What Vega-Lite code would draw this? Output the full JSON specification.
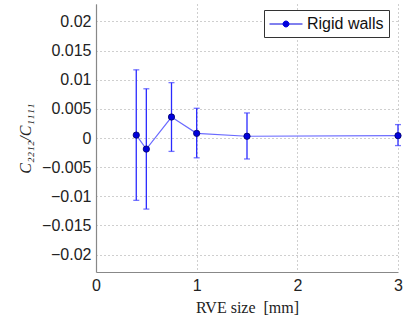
{
  "$schema": "https://vega.github.io/schema/vega-lite/v6.json",
  "width": 302,
  "height": 268,
  "autosize": {"type": "none"},
  "padding": {"left": 96, "top": 4, "right": 8, "bottom": 48},
  "background": "white",
  "config": {
    "view": {"stroke": null},
    "axis": {
      "labelFont": "Liberation Sans",
      "labelFontSize": 16,
      "labelColor": "#222",
      "labelOverlap": false,
      "labelFlush": false,
      "titleFont": "Liberation Serif",
      "titleFontSize": 16,
      "titleFontWeight": "normal",
      "titleColor": "#222",
      "domainColor": "#888",
      "domainWidth": 1.2,
      "ticks": false,
      "gridColor": "#888",
      "gridDash": [1, 3],
      "gridWidth": 1,
      "gridOpacity": 0.8
    }
  },
  "data": {
    "values": [
      {"size": 0.4, "val": 0.0005, "lo": -0.0107, "hi": 0.0117, "series": "Rigid walls"},
      {"size": 0.5, "val": -0.0019, "lo": -0.0122, "hi": 0.00845, "series": "Rigid walls"},
      {"size": 0.75, "val": 0.0036, "lo": -0.0023, "hi": 0.0095, "series": "Rigid walls"},
      {"size": 1.0, "val": 0.0008, "lo": -0.0034, "hi": 0.0051, "series": "Rigid walls"},
      {"size": 1.5, "val": 0.0003, "lo": -0.0036, "hi": 0.0043, "series": "Rigid walls"},
      {"size": 3.0, "val": 0.0004, "lo": -0.0013, "hi": 0.0023, "series": "Rigid walls"}
    ]
  },
  "encoding": {
    "x": {
      "field": "size", "type": "quantitative",
      "scale": {"domain": [0, 3], "nice": false, "zero": false},
      "axis": {"values": [0, 1, 2, 3], "format": "d", "title": "RVE size \u00a0[mm]", "labelPadding": 5, "titlePadding": 6}
    }
  },
  "layer": [
    {
      "mark": {"type": "rule", "color": "#2a2aff", "strokeWidth": 1.3},
      "encoding": {
        "y": {
          "field": "lo", "type": "quantitative",
          "scale": {"domain": [-0.023, 0.023], "nice": false, "zero": false},
          "axis": {"values": [-0.02, -0.015, -0.01, -0.005, 0, 0.005, 0.01, 0.015, 0.02], "format": "~f", "title": "C₂₂₁₂/C₁₁₁₁", "titleFontStyle": "italic", "labelPadding": 5, "titlePadding": 8}
        },
        "y2": {"field": "hi"}
      }
    },
    {
      "mark": {"type": "tick", "orient": "horizontal", "color": "#3a3aff", "size": 6, "thickness": 1.3},
      "encoding": {"y": {"field": "lo", "type": "quantitative",
        "axis": {"values": [-0.02, -0.015, -0.01, -0.005, 0, 0.005, 0.01, 0.015, 0.02], "format": "~f", "title": "C₂₂₁₂/C₁₁₁₁", "titleFontStyle": "italic", "labelPadding": 5, "titlePadding": 8}}}
    },
    {
      "mark": {"type": "tick", "orient": "horizontal", "color": "#3a3aff", "size": 6, "thickness": 1.3},
      "encoding": {"y": {"field": "hi", "type": "quantitative",
        "axis": {"values": [-0.02, -0.015, -0.01, -0.005, 0, 0.005, 0.01, 0.015, 0.02], "format": "~f", "title": "C₂₂₁₂/C₁₁₁₁", "titleFontStyle": "italic", "labelPadding": 5, "titlePadding": 8}}}
    },
    {
      "mark": {"type": "line", "color": "#6a6aff", "strokeWidth": 1.2},
      "encoding": {"y": {"field": "val", "type": "quantitative",
        "axis": {"values": [-0.02, -0.015, -0.01, -0.005, 0, 0.005, 0.01, 0.015, 0.02], "format": "~f", "title": "C₂₂₁₂/C₁₁₁₁", "titleFontStyle": "italic", "labelPadding": 5, "titlePadding": 8}}}
    },
    {
      "mark": {"type": "point", "filled": true, "size": 40, "opacity": 1, "stroke": "#000066", "strokeWidth": 0.8},
      "encoding": {
        "y": {"field": "val", "type": "quantitative",
          "axis": {"values": [-0.02, -0.015, -0.01, -0.005, 0, 0.005, 0.01, 0.015, 0.02], "format": "~f", "title": "C₂₂₁₂/C₁₁₁₁", "titleFontStyle": "italic", "labelPadding": 5, "titlePadding": 8}},
        "color": {
          "field": "series", "type": "nominal",
          "scale": {"range": ["#0000dd"]},
          "legend": {
            "title": null,
            "orient": "none",
            "legendX": 168,
            "legendY": 6,
            "symbolType": "M-2,0H2M0.36,0A0.36,0.36,0,1,1,-0.36,0A0.36,0.36,0,1,1,0.36,0Z",
            "symbolSize": 272,
            "symbolOffset": 8,
            "symbolStrokeColor": "#0000dd",
            "symbolFillColor": "#0000dd",
            "symbolStrokeWidth": 1,
            "labelFont": "Liberation Sans",
            "labelFontSize": 16,
            "labelColor": "#111",
            "labelOffset": 12,
            "padding": 5,
            "strokeColor": "#333",
            "fillColor": "white"
          }
        }
      }
    }
  ]
}
